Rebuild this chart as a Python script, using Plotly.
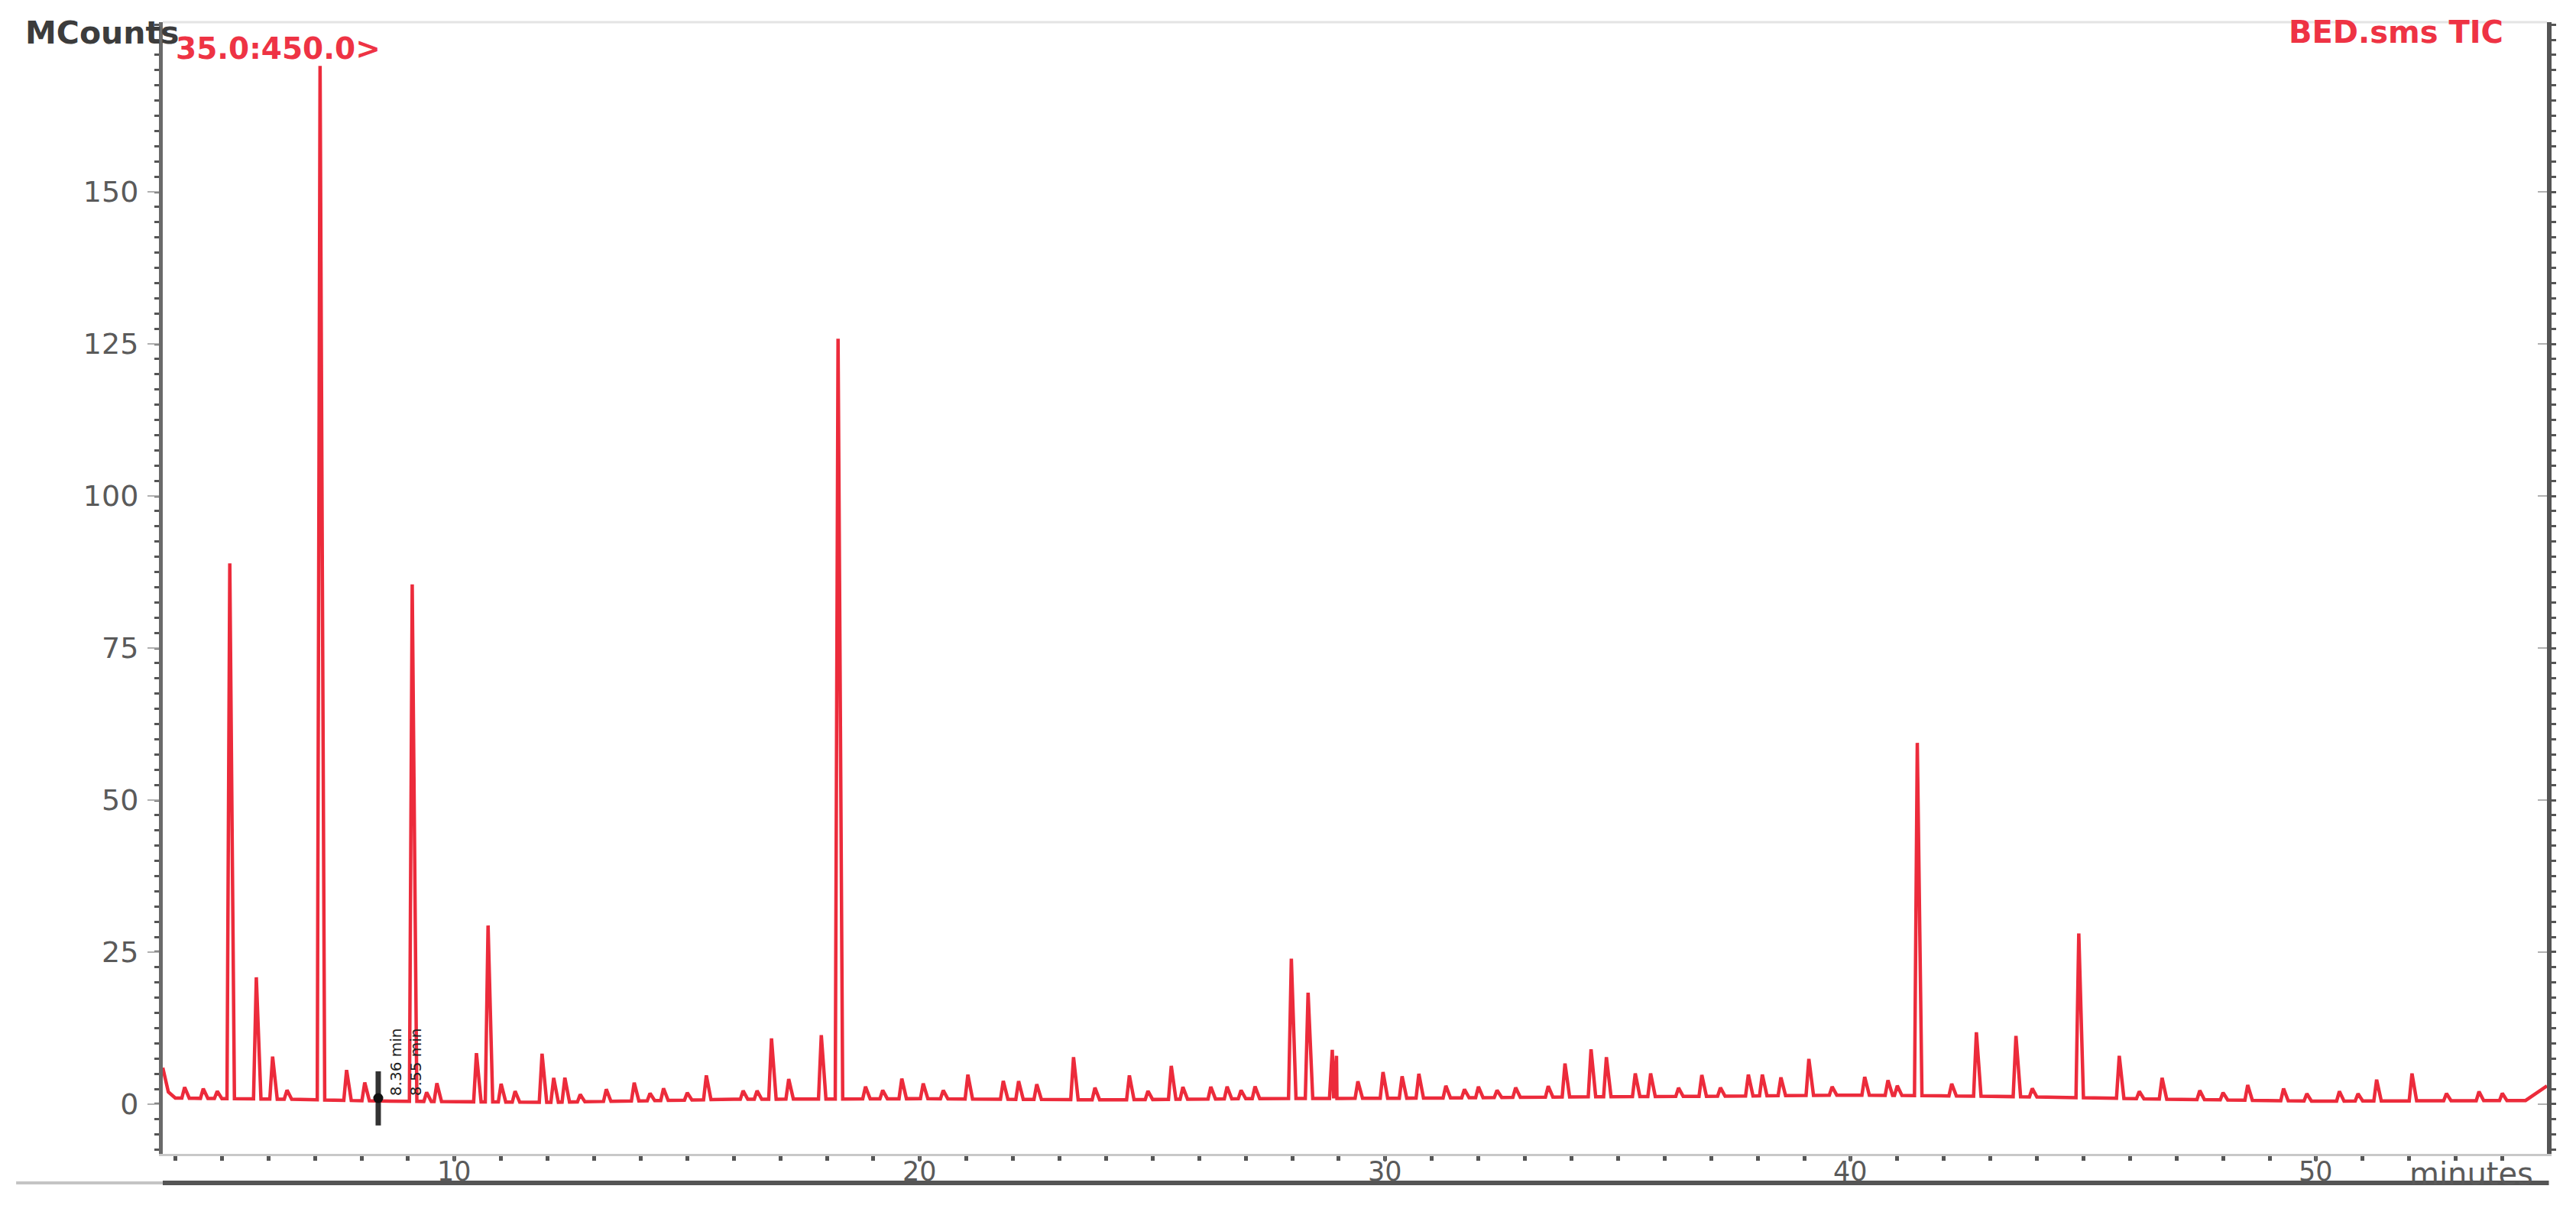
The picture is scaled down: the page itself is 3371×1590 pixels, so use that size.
import numpy as np
import plotly.graph_objects as go

# ---------------- data ----------------
# retention times (minutes) of visible peaks and their apex heights (MCounts above baseline)
peak_rt = [4.20, 4.60, 4.90, 5.17, 5.74, 6.09, 6.40, 7.11, 7.68, 8.07,
           9.09, 9.40, 9.62, 10.47, 10.72, 11.00, 11.30, 11.88, 12.13, 12.37,
           12.70, 13.26, 13.86, 14.20, 14.49, 15.00, 15.41, 16.20, 16.50, 16.81,
           17.18, 17.88, 18.24, 18.83, 19.20, 19.61, 20.07, 20.50, 21.03, 21.79,
           22.12, 22.51, 23.30, 23.76, 24.50, 24.90, 25.40, 25.65, 26.25, 26.60,
           26.90, 27.20, 27.98, 28.34, 28.86, 28.95, 29.41, 29.95, 30.36, 30.72,
           31.30, 31.70, 32.00, 32.40, 32.80, 33.50, 33.86, 34.42, 34.75, 35.37,
           35.70, 36.30, 36.80, 37.20, 37.80, 38.10, 38.50, 39.10, 39.60, 40.30,
           40.80, 41.00, 41.43, 42.17, 42.70, 43.55, 43.90, 44.90, 45.77, 46.20,
           46.69, 47.50, 48.00, 48.53, 49.30, 49.80, 50.50, 50.90, 51.30, 52.06,
           52.80, 53.50, 54.00]
peak_h = [1.8, 1.6, 1.2, 88, 20, 7, 1.5, 170, 5, 3,
          85, 1.5, 3, 8, 29, 3, 1.8, 8, 4, 4,
          1.2, 2, 3, 1.2, 2, 1.2, 4, 1.4, 1.4, 10,
          3.3, 10.5, 125, 2, 1.4, 3.3, 2.5, 1.4, 4, 3,
          3, 2.5, 7, 2, 4, 1.4, 5.5, 2, 2, 2,
          1.4, 2, 23, 17.4, 8, 7, 2.8, 4.3, 3.6, 4,
          2, 1.4, 1.8, 1.2, 1.6, 1.8, 5.5, 7.8, 6.5, 3.8,
          3.8, 1.4, 3.5, 1.4, 3.5, 3.5, 3, 6, 1.4, 3,
          2.5, 1.6, 58, 2, 10.5, 10, 1.4, 27, 7, 1.2,
          3.5, 1.5, 1.2, 2.5, 2, 1.2, 1.6, 1.2, 3.5, 4.5,
          1.2, 1.5, 1.2]

# baseline of the trace (minutes, MCounts)
base_t = [3.73, 3.85, 4.00, 6.50, 8.50, 12.0, 16.0, 20.0, 24.0, 27.0,
          31.0, 34.0, 37.0, 40.0, 43.0, 47.0, 50.0, 54.5, 54.96]
base_v = [6.0, 2.0, 1.0, 0.8, 0.5, 0.3, 0.8, 0.9, 0.7, 0.9,
          1.0, 1.2, 1.3, 1.5, 1.3, 0.8, 0.5, 0.6, 3.0]

# marker drawn on the chromatogram near 8.4 min
mark_t = 8.36
mark_range = [-3.5, 5.4]
mark_dot = 1.0

x_ticks = [10, 20, 30, 40, 50]
y_ticks = [0, 25, 50, 75, 100, 125, 150]

# ---------------- build the polyline of the trace ----------------
pts = list(zip(base_t, base_v))
for rt, h in zip(peak_rt, peak_h):
    bl = float(np.interp(rt, base_t, base_v))
    pts.append((rt - 0.06, float(np.interp(rt - 0.06, base_t, base_v))))
    pts.append((rt, bl + h))
    pts.append((rt + 0.10, float(np.interp(rt + 0.10, base_t, base_v))))
pts.sort(key=lambda p: p[0])
tr_t = [p[0] for p in pts]
tr_v = [p[1] for p in pts]

XR = [3.73, 54.96]
YR = [-8.17, 177.9]

fig = go.Figure()
fig.add_trace(go.Scatter(x=tr_t, y=tr_v, mode="lines",
                         line=dict(color="#EC2B3B", width=4.5),
                         showlegend=False, hoverinfo="skip"))
fig.add_trace(go.Scatter(x=[mark_t, mark_t], y=mark_range, mode="lines",
                         line=dict(color="#333333", width=7),
                         showlegend=False, hoverinfo="skip"))
fig.add_trace(go.Scatter(x=[mark_t], y=[mark_dot], mode="markers",
                         marker=dict(color="#111111", size=13),
                         showlegend=False, hoverinfo="skip"))
# invisible trace to register the mirrored right axis
fig.add_trace(go.Scatter(x=XR, y=YR, mode="lines", yaxis="y2",
                         line=dict(width=0), opacity=0,
                         showlegend=False, hoverinfo="skip"))

tickfont = dict(family="DejaVu Sans", size=38, color="#5a5a5a")
xtickfont = dict(family="DejaVu Sans", size=35, color="#5a5a5a")

annotations = [
    dict(text="MCounts", xref="paper", yref="paper", x=-0.0583, y=0.9905,
         xanchor="left", yanchor="middle", showarrow=False,
         font=dict(family="DejaVu Sans", size=41, color="#3c3c3c",
                   weight="bold")),
    dict(text="35.0:450.0>", xref="paper", yref="paper", x=0.0048, y=0.977,
         xanchor="left", yanchor="middle", showarrow=False,
         font=dict(family="DejaVu Sans", size=39, color="#EE3344",
                   weight="bold")),
    dict(text="BED.sms TIC", xref="paper", yref="paper", x=0.9824, y=0.9912,
         xanchor="right", yanchor="middle", showarrow=False,
         font=dict(family="DejaVu Sans", size=40, color="#EE3344",
                   weight="bold")),
    dict(text="minutes", xref="paper", yref="paper", x=0.9949, y=-0.0175,
         xanchor="right", yanchor="middle", showarrow=False,
         font=dict(family="DejaVu Sans", size=40, color="#5a5a5a")),
    dict(text="8.36 min<br>8.55 min", x=8.95, y=7.0, xref="x", yref="y",
         textangle=-90, showarrow=False, xanchor="center", yanchor="middle",
         font=dict(family="DejaVu Sans", size=20, color="#222222")),
]
for v in x_ticks:
    annotations.append(dict(text=str(v), x=v, y=-0.0152, xref="x", yref="paper",
                            xanchor="center", yanchor="middle", showarrow=False,
                            font=xtickfont))

fig.update_layout(
    width=3363, height=1582,
    margin=dict(l=205, r=38, t=21, b=80, autoexpand=False),
    paper_bgcolor="white", plot_bgcolor="white",
    xaxis=dict(range=XR, tickmode="array", tickvals=x_ticks,
               showticklabels=False,
               ticks="outside", ticklen=7, tickwidth=3, tickcolor="#666666",
               minor=dict(tickmode="linear", tick0=0, dtick=1, ticklen=6,
                          tickwidth=5, tickcolor="#555555"),
               showline=True, linecolor="#c8c8c8", linewidth=3,
               showgrid=False, zeroline=False),
    yaxis=dict(range=YR, tickmode="array", tickvals=y_ticks,
               ticktext=[str(v) for v in y_ticks],
               ticks="outside", ticklen=15, tickwidth=2, tickcolor="#b0b0b0",
               minor=dict(tickmode="linear", tick0=0, dtick=2.5, ticklen=6,
                          tickwidth=3, tickcolor="#555555"),
               showline=True, linecolor="#6a6a6a", linewidth=5,
               showgrid=False, zeroline=False, tickfont=tickfont,
               ticklabelstandoff=4),
    yaxis2=dict(range=YR, overlaying="y", side="right", anchor="x",
                tickmode="array", tickvals=y_ticks, showticklabels=False,
                ticks="inside", ticklen=12, tickwidth=2, tickcolor="#b0b0b0",
                minor=dict(tickmode="linear", tick0=0, dtick=2.5, ticklen=6,
                           tickwidth=3, tickcolor="#555555"),
                showline=True, linecolor="#555555", linewidth=6,
                showgrid=False, zeroline=False),
    shapes=[
        dict(type="line", xref="paper", yref="paper", x0=0, x1=1, y0=1, y1=1,
             line=dict(color="#e4e4e4", width=3)),
        dict(type="line", xref="paper", yref="paper", x0=-0.0615, x1=0,
             y0=-0.0257, y1=-0.0257, line=dict(color="#c4c4c4", width=4)),
        dict(type="line", xref="paper", yref="paper", x0=0, x1=1.0008,
             y0=-0.0257, y1=-0.0257, line=dict(color="#555555", width=6)),
    ],
    annotations=annotations,
)

fig.write_html("out.html")
